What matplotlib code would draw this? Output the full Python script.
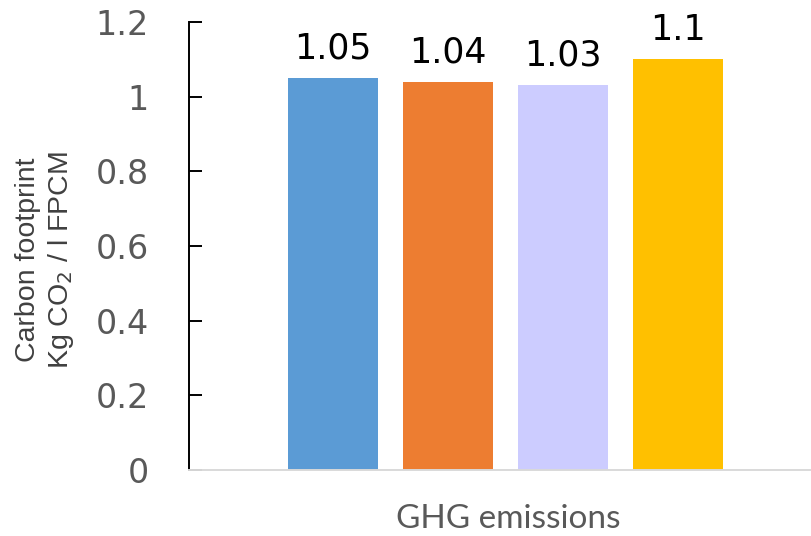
import matplotlib
matplotlib.use("Agg")
import matplotlib.pyplot as plt

# data
categories = ["A", "B", "C", "D"]
values = [1.05, 1.04, 1.03, 1.1]
bar_colors = ["#5B9BD5", "#ED7D31", "#CCCCFF", "#FFC000"]
yticks = [0, 0.2, 0.4, 0.6, 0.8, 1.0, 1.2]
ytick_labels = ["0", "0.2", "0.4", "0.6", "0.8", "1", "1.2"]

fig = plt.figure(figsize=(8.11, 5.36), dpi=100)
ax = fig.add_axes([0.233, 0.123, 0.767, 0.836])

x = list(range(len(categories)))
bars = ax.bar(x, values, width=0.78, color=bar_colors, zorder=2)

for xi, v in zip(x, values):
    ax.annotate(f"{v:g}", (xi, v), xytext=(0, 9), textcoords="offset points",
                ha="center", va="bottom", fontsize=25, color="black")

ax.set_xlim(-1.252, 4.157)
ax.set_ylim(0, 1.2)
ax.set_yticks(yticks)
ax.set_yticklabels(ytick_labels)
ax.set_xticks([])

ax.tick_params(axis="y", direction="in", length=9.5, width=1.4, color="black",
               labelsize=24, labelcolor="#595959", pad=29)

for s in ["top", "right"]:
    ax.spines[s].set_visible(False)
ax.spines["left"].set_linewidth(1.4)
ax.spines["left"].set_color("black")
ax.spines["bottom"].set_color("#D9D9D9")
ax.spines["bottom"].set_linewidth(1.4)

# y label, two lines
fig.text(0.056, 0.515, "Carbon footprint\nKg CO$_2$ / l FPCM", rotation=90,
         ha="center", va="center", fontsize=20.5, color="#404040",
         family=["Liberation Sans Narrow", "Liberation Sans", "DejaVu Sans"],
         linespacing=1.25)

fig.text(508 / 811, 1 - 519 / 536, "GHG emissions", ha="center", va="center",
         fontsize=24, color="#595959", family=["Lato", "DejaVu Sans"])

fig.savefig("out.png", dpi=100)
